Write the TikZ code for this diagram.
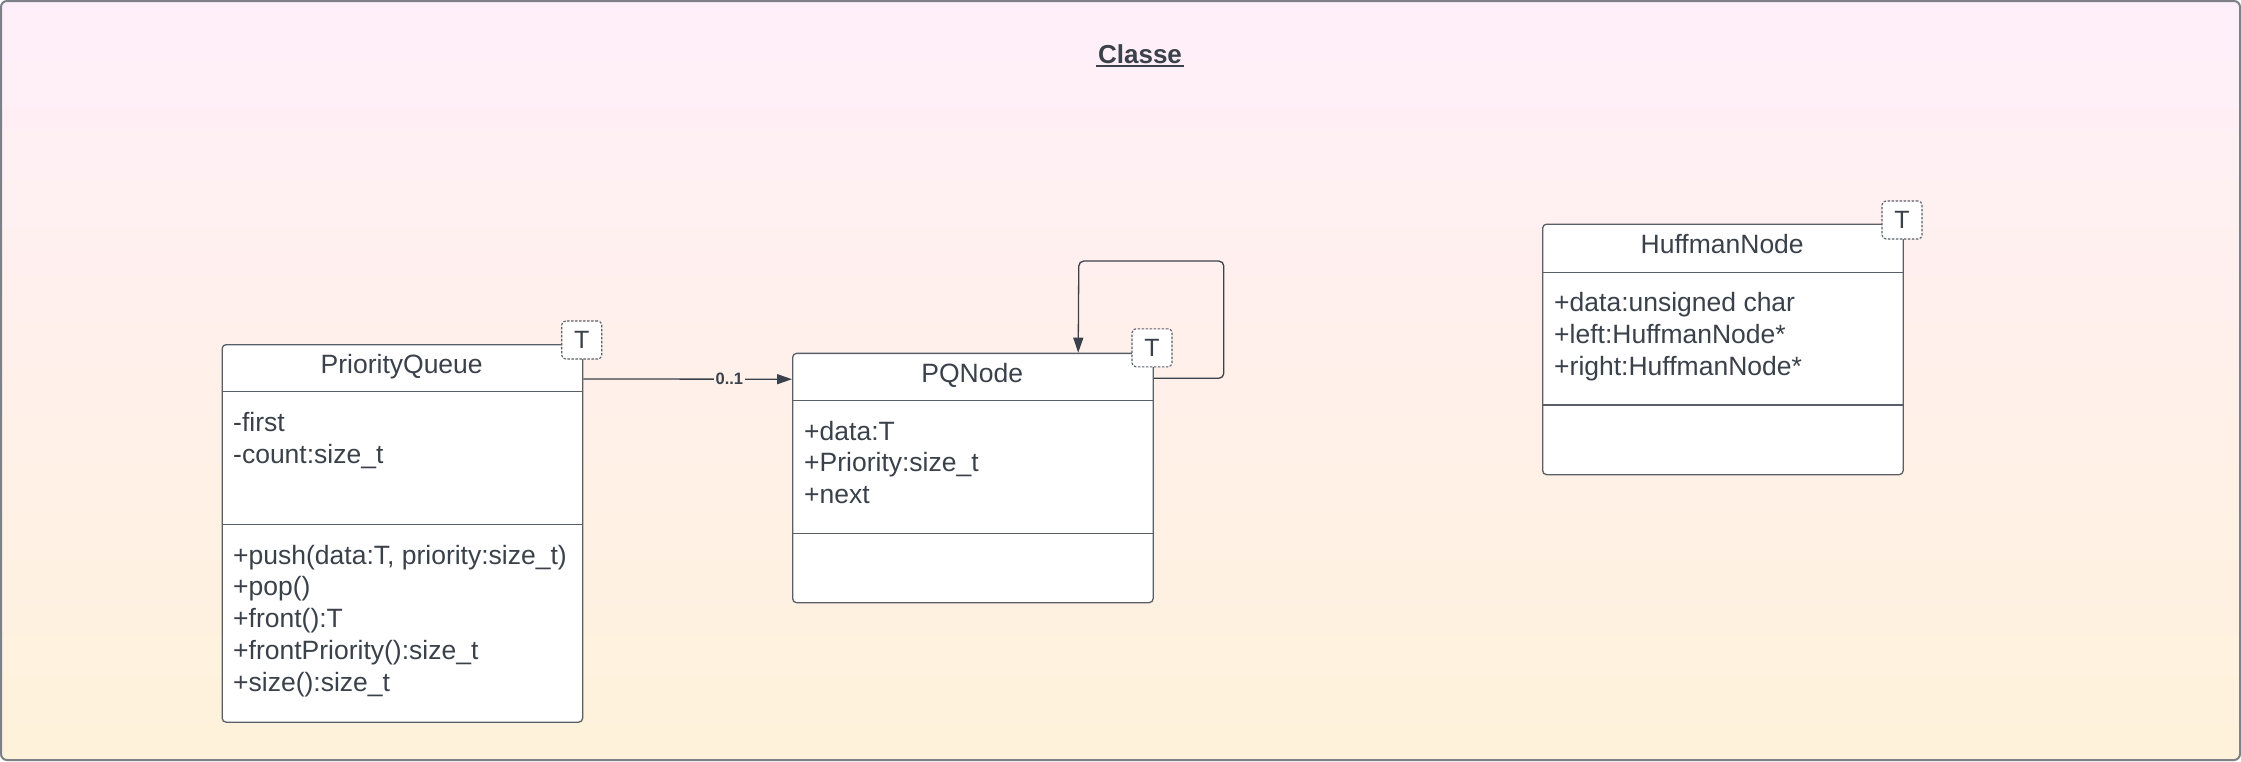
\documentclass[tikz,border=0pt]{standalone}
\usepackage{fontspec}
\setmainfont{Liberation Sans}
\usetikzlibrary{arrows.meta}
\definecolor{ink}{HTML}{3A414A}
\definecolor{boxline}{HTML}{5A5F66}
\definecolor{frameline}{HTML}{7D8087}
\definecolor{bgtop}{HTML}{FFEFFA}
\definecolor{bgbot}{HTML}{FFF2DA}
\begin{document}
\begin{tikzpicture}[x=1pt,y=-1pt,
  every node/.style={text=ink},
  txt/.style={font=\fontsize{26.5}{31.7}\selectfont, inner sep=0pt},
  classbox/.style={draw=boxline, line width=1.3pt, fill=white, rounded corners=4pt, minimum width=360.5pt, anchor=north west, inner sep=0pt},
  badge/.style={draw=boxline, dash pattern=on 2.5pt off 1.5pt, line width=1.1pt, fill=white, rounded corners=4pt, minimum width=40pt, minimum height=38pt, inner sep=0pt, font=\fontsize{25}{28}\selectfont},
  head/.style={txt, anchor=base},
  member/.style={txt, anchor=base west},
  rule/.style={draw=boxline, line width=1.3pt},
  assoc/.style={draw=ink, line width=1.3pt, -{Triangle[length=15pt,width=10pt]}},
  mult/.style={font=\fontsize{16.5}{18}\selectfont\bfseries, inner sep=1.5pt, fill=bgtop!50!bgbot}]
\useasboundingbox (0,0) rectangle (2241,761);
\shade[top color=bgtop, bottom color=bgbot, rounded corners=6pt] (1,1) rectangle (2240,760);
\draw[frameline, line width=2pt, rounded corners=6pt] (1,1) rectangle (2240,760);

% title
\node[font=\fontsize{26}{30}\selectfont\bfseries, inner sep=0pt, anchor=base] (title) at (1140,63.3) {Classe};
\draw[ink, line width=2pt] ([yshift=-3pt,xshift=-1.5pt]title.base west) -- ([yshift=-3pt,xshift=1.5pt]title.base east);

% PriorityQueue
\node[classbox, minimum height=377.5pt] (pq) at (221.5,344) {};
\draw[rule] (221.5,391.6) -- (582,391.6);
\draw[rule] (221.5,524.5) -- (582,524.5);
\node[head] (pqname) at (401.7,373.4) {PriorityQueue};
\node[member] (pqa1) at (233,431.3) {-first};
\node[member] (pqa2) at (233,463) {-count:size\_t};
\node[member] (pqo1) at (233,564.2) {+push(data:T, priority:size\_t)};
\node[member] (pqo2) at (233,595.9) {+pop()};
\node[member] (pqo3) at (233,627.6) {+front():T};
\node[member] (pqo4) at (233,659.3) {+frontPriority():size\_t};
\node[member] (pqo5) at (233,691) {+size():size\_t};
\node[badge] (pqT) at (581.7,340) {T};

% PQNode
\node[classbox, minimum height=249.3pt] (pqn) at (792,352.7) {};
\draw[rule] (792,400.3) -- (1152.5,400.3);
\draw[rule] (792,533.5) -- (1152.5,533.5);
\node[head] (pqnname) at (972.2,382) {PQNode};
\node[member] (pqna1) at (804,440) {+data:T};
\node[member] (pqna2) at (804,471.7) {+Priority:size\_t};
\node[member] (pqna3) at (804,503.4) {+next};
\node[badge] (pqnT) at (1152,347.8) {T};

% HuffmanNode
\node[classbox, minimum height=250.5pt] (hn) at (1542,223.5) {};
\draw[rule] (1542,272.2) -- (1902.5,272.2);
\draw[rule] (1542,405) -- (1902.5,405);
\node[head] (hnname) at (1722.2,253) {HuffmanNode};
\node[member] (hna1) at (1554,311.7) {+data:unsigned char};
\node[member] (hna2) at (1554,343.4) {+left:HuffmanNode*};
\node[member] (hna3) at (1554,375.1) {+right:HuffmanNode*};
\node[badge] (hnT) at (1902,220) {T};

% connectors
\draw[assoc] ([yshift=-35pt]pq.north east) -- node[mult, pos=0.7] (m1) {0..1} ([yshift=-26.5pt]pqn.north west);
\draw[assoc, rounded corners=5pt] ([yshift=-25.6pt]pqn.north east) -- ++(70,0) -- ++(0,-117.3) -- ++(-145,0) -- ([xshift=105.3pt]pqn.north);
\end{tikzpicture}
\end{document}
